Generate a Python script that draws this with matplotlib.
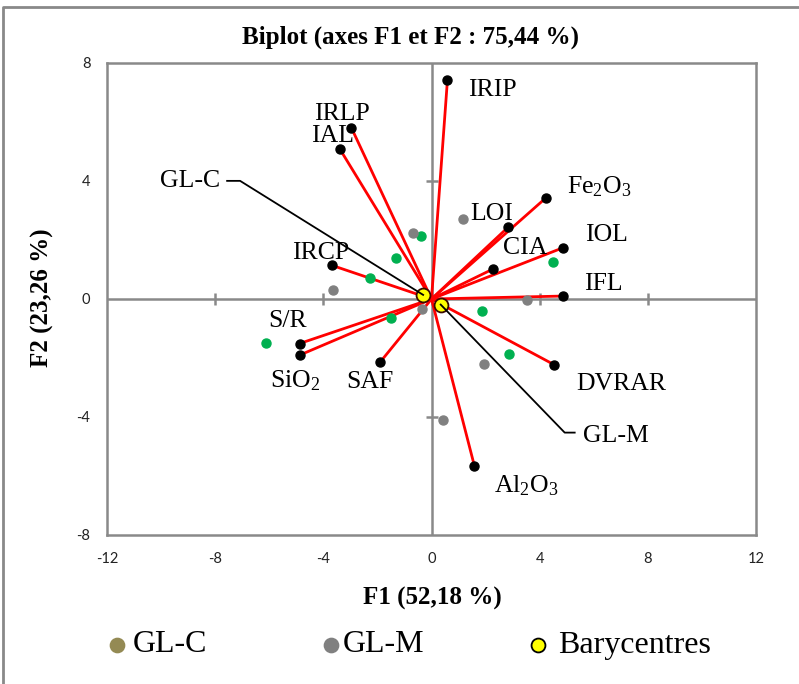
import matplotlib
matplotlib.use("Agg")
import matplotlib.pyplot as plt
from matplotlib.lines import Line2D

plt.rcParams["font.family"] = ["Liberation Serif", "DejaVu Serif"]
plt.rcParams["mathtext.fontset"] = "custom"
plt.rcParams["mathtext.rm"] = "Liberation Serif"
plt.rcParams["mathtext.it"] = "Liberation Serif:italic"
plt.rcParams["axes.unicode_minus"] = False

# Variable loadings (F1, F2)
variables = ["IRIP", "IRLP", "IAL", "IRCP", "Fe$_2$O$_3$", "LOI", "CIA", "IOL",
             "IFL", "S/R", "SiO$_2$", "SAF", "DVRAR", "Al$_2$O$_3$"]
var_f1 = [0.59, -2.96, -3.40, -3.68, 4.22, 2.84, 2.26, 4.87,
          4.87, -4.88, -4.87, -1.89, 4.54, 1.59]
var_f2 = [7.43, 5.80, 5.10, 1.14, 3.42, 2.44, 1.01, 1.74,
          0.10, -1.51, -1.90, -2.13, -2.23, -5.67]

# Observations
glc_f1 = [-0.40, -1.30, -2.26, -6.11, -1.51, 1.87, 2.87, 4.50]
glc_f2 = [2.15, 1.38, 0.72, -1.49, -0.66, -0.41, -1.86, 1.26]
glm_f1 = [-0.68, -3.64, 1.15, 3.54, -0.35, 1.95, 0.41]
glm_f2 = [2.24, 0.31, 2.71, -0.03, -0.34, -2.19, -4.10]

# Group barycentres
bary_names = ["GL-C", "GL-M"]
bary_f1 = [-0.31, 0.34]
bary_f2 = [0.14, -0.19]

x_ticks = [-12, -8, -4, 0, 4, 8, 12]
y_ticks = [-8, -4, 0, 4, 8]

# Label placement: pixel offsets from each point (dx, dy, horizontal alignment)
label_offsets = {
    "IRIP": (21, -16, "left"), "IRLP": (-10, 8, "center"), "IAL": (-7, 7, "center"),
    "IRCP": (-11, 6, "center"), "Fe$_2$O$_3$": (21, 5, "left"), "LOI": (-38, 7, "left"),
    "CIA": (10, 15, "left"), "IOL": (22, 7, "left"), "IFL": (21, 6, "left"),
    "S/R": (-12, 17, "center"), "SiO$_2$": (-5, -32, "center"), "SAF": (-11, -26, "center"),
    "DVRAR": (22, -25, "left"), "Al$_2$O$_3$": (20, -26, "left"),
}
# Leader lines for barycentre labels: elbow, stub end, text anchor (pixels)
leaders = {
    "GL-C": ((-183, 114), (-196, 114), (-203, 108), "right"),
    "GL-M": ((124, -128), (134, -128), (142, -137), "left"),
}

GRAY = "#898989"
fig = plt.figure(figsize=(7.99, 6.84), dpi=100)
ax = fig.add_axes([107 / 799, 1 - 535 / 684, 649 / 799, 472 / 684])
ax.set_xlim(-12, 12)
ax.set_ylim(-8, 8)
for s in ax.spines.values():
    s.set_color(GRAY)
    s.set_linewidth(1.8)
ax.set_xticks(x_ticks)
ax.set_yticks(y_ticks)
ax.tick_params(length=0, pad=12, labelsize=10.5, labelcolor="#222222")
for lab in ax.get_xticklabels() + ax.get_yticklabels():
    lab.set_family("Lato")

# Axes through the origin with crossing tick marks
ax.axhline(0, color=GRAY, lw=1.8, zorder=1)
ax.axvline(0, color=GRAY, lw=1.8, zorder=1)
ax.plot(x_ticks[1:-1], [0] * (len(x_ticks) - 2), ls="none", marker="|",
        ms=9, mew=1.8, color=GRAY, zorder=1)
ax.plot([0] * (len(y_ticks) - 2), y_ticks[1:-1], ls="none", marker="_",
        ms=9, mew=1.8, color=GRAY, zorder=1)

# Loading vectors
for x, y in zip(var_f1, var_f2):
    ax.plot([0, x], [0, y], color="#FF0000", lw=2, zorder=2, solid_capstyle="butt")
ax.plot(var_f1, var_f2, ls="none", marker="o", ms=6.5, color="black", zorder=3)

# Observations
ax.plot(glc_f1, glc_f2, ls="none", marker="o", ms=6.5, color="#00B050", zorder=4)
ax.plot(glm_f1, glm_f2, ls="none", marker="o", ms=6.5, color="#808080", zorder=4)

# Barycentres
ax.plot(bary_f1, bary_f2, ls="none", marker="o", ms=10, mfc="#FFFF00",
        mec="#3a0a00", mew=1.3, zorder=5)

# Variable labels
for name, x, y in zip(variables, var_f1, var_f2):
    dx, dy, ha = label_offsets[name]
    ax.annotate(name, (x, y), xytext=(dx, dy), textcoords="offset pixels",
                ha=ha, va="baseline", fontsize=18.5, zorder=6)

# Barycentre labels with leader lines
for name, x, y in zip(bary_names, bary_f1, bary_f2):
    (ex, ey), (sx, sy), (tx, ty), ha = leaders[name]
    px, py = ax.transData.transform((x, y))
    fig.add_artist(Line2D([px, px + ex, px + sx], [py, py + ey, py + sy],
                          transform=None, color="black", lw=1.3, zorder=7))
    ax.annotate(name, (x, y), xytext=(tx, ty), textcoords="offset pixels",
                ha=ha, va="baseline", fontsize=18.5, zorder=6)

# Titles
fig.text(410 / 799, 1 - 37 / 684, "Biplot (axes F1 et F2 : 75,44 %)",
         ha="center", va="center", fontsize=18, fontweight="bold")
fig.text(432 / 799, 1 - 598 / 684, "F1 (52,18 %)", ha="center", va="center",
         fontsize=18, fontweight="bold")
fig.text(42 / 799, 1 - 298 / 684, "F2 (23,26 %)", ha="center", va="center",
         fontsize=18, fontweight="bold", rotation=90)

# Legend
legend_items = [("GL-C", "#948A54", "#948A54", 117, 133),
                ("GL-M", "#808080", "#808080", 331, 343),
                ("Barycentres", "#FFFF00", "black", 538, 558)]
ly = 1 - 645 / 684
for text, fc, ec, mx, tx in legend_items:
    fig.add_artist(Line2D([mx / 799], [ly], ls="none", marker="o", ms=10,
                          mfc=fc, mec=ec, mew=1.3, transform=fig.transFigure))
    fig.text(tx / 799, ly, text, ha="left", va="center", fontsize=23)

# Outer frame
fig.add_artist(Line2D([3 / 799, 3 / 799, 1], [0, 1 - 7 / 684, 1 - 7 / 684],
                      transform=fig.transFigure, color=GRAY, lw=2))

fig.savefig("out.png", dpi=100)
